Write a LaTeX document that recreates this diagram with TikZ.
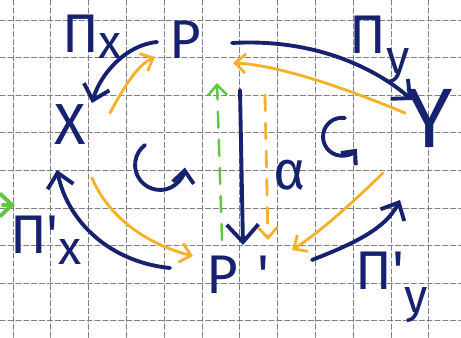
\documentclass[tikz,border=0pt]{standalone}
\usepackage{fontspec}
\setmainfont{Fira Sans}
\usetikzlibrary{arrows.meta, positioning}
\definecolor{ink}{RGB}{22,34,112}
\definecolor{marker}{RGB}{246,176,42}
\definecolor{leaf}{RGB}{96,198,64}

\begin{document}
\begin{tikzpicture}[x=0.02cm, y=-0.02cm, line cap=round, line join=round,
    lbl/.style={text=ink, inner sep=0pt, font=\fontsize{31}{31}\selectfont},
    proj/.style={draw=ink, line width=2.2pt, -{Straight Barb[length=8pt, width=15pt]}},
    lift/.style={draw=marker, line width=1.6pt, -{Straight Barb[length=6pt, width=11pt]}},
    sect/.style={draw=leaf, line width=1.4pt, dash pattern=on 9pt off 7pt, -{Straight Barb[length=6pt, width=11pt]}},
    gridline/.style={draw=black!50, line width=0.5pt, dash pattern=on 3pt off 1.5pt}]
    % paper
    \fill[white] (0,0) rectangle (461,338);
    \useasboundingbox (0,0) rectangle (461,338);
    \foreach \i in {0,...,11}
        \draw[gridline] (13+37.8*\i,0) -- ++(0,338);
    \foreach \j in {0,...,8}
        \draw[gridline] (0,20+37.6*\j) -- ++(461,0);

    % Objects
    \node (P) [lbl] at (185,40) {P};
    \node (X) [lbl, font=\fontsize{33}{33}\selectfont] at (70,125) {X};
    \node (Y) [lbl, font=\fontsize{48}{48}\selectfont] at (430,118) {Y};
    \node (Pp) [lbl] at (238,275) {P\hspace{0.35em}\textquotesingle};

    % Labels
    \node (pix) [lbl] at (92,37) {Π\raisebox{-0.2ex}{\fontsize{27}{27}\selectfont x}};
    \node (piy) [lbl] at (380,50) {Π\raisebox{-0.7ex}{\fontsize{27}{27}\selectfont y}};
    \node (pixp) [lbl] at (46,240) {Π\textquotesingle\raisebox{-0.4ex}{\fontsize{27}{27}\selectfont x}};
    \node (piyp) [lbl] at (392,287) {Π\textquotesingle\raisebox{-0.8ex}{\fontsize{27}{27}\selectfont y}};
    \node (alpha) [lbl] at (290,175) {α};

    % Projections (blue)
    \draw[proj] ([shift={(-28,2)}]P.center) .. controls (125,45) and (100,75) .. ([shift={(22,-22)}]X.center);
    \draw[proj] ([shift={(47,3)}]P.center) .. controls (320,38) and (380,72) .. ([shift={(-18,-18)}]Y.center);
    \draw[proj, -{Straight Barb[length=10pt, width=18pt]}] ([shift={(55,50)}]P.center) -- ([shift={(5,-30)}]Pp.center);
    \draw[proj] ([shift={(-68,-7)}]Pp.center) .. controls (110,262) and (68,222) .. ([shift={(-13,45)}]X.center);
    \draw[proj] ([shift={(74,-15)}]Pp.center) .. controls (350,245) and (385,230) .. ([shift={(-30,82)}]Y.center);

    % Lifts (orange)
    \draw[lift] ([shift={(40,-12)}]X.center) .. controls (125,85) and (138,65) .. ([shift={(-30,17)}]P.center);
    \draw[lift] ([shift={(-25,-5)}]Y.center) .. controls (350,90) and (280,65) .. ([shift={(48,23)}]P.center);
    \draw[lift] ([shift={(22,53)}]X.center) .. controls (110,220) and (150,245) .. ([shift={(-45,-19)}]Pp.center);
    \draw[lift] ([shift={(-47,55)}]Y.center) .. controls (350,205) and (320,232) .. ([shift={(54,-25)}]Pp.center);
    \draw[lift, dash pattern=on 9pt off 7pt] ([shift={(80,55)}]P.center) -- ([shift={(30,-35)}]Pp.center);

    % Sections (green)
    \draw[sect] ([shift={(-16,-35)}]Pp.center) -- ([shift={(32,43)}]P.center);
    \coordinate (offpage) at (-25,205);
    \coordinate (edgetip) at (15,205);
    \draw[sect, line width=2.2pt, -{Straight Barb[length=7pt, width=13pt]}] (offpage) -- (edgetip);

    % Group actions
    \draw[proj, -{Straight Barb[length=7pt, width=12pt]}] (145,145) arc[start angle=127, end angle=354, radius=0.5cm];
    \draw[proj, -{Straight Barb[length=6pt, width=11pt]}] (345,118) arc[start angle=81, end angle=321, radius=0.38cm];
\end{tikzpicture}
\end{document}
